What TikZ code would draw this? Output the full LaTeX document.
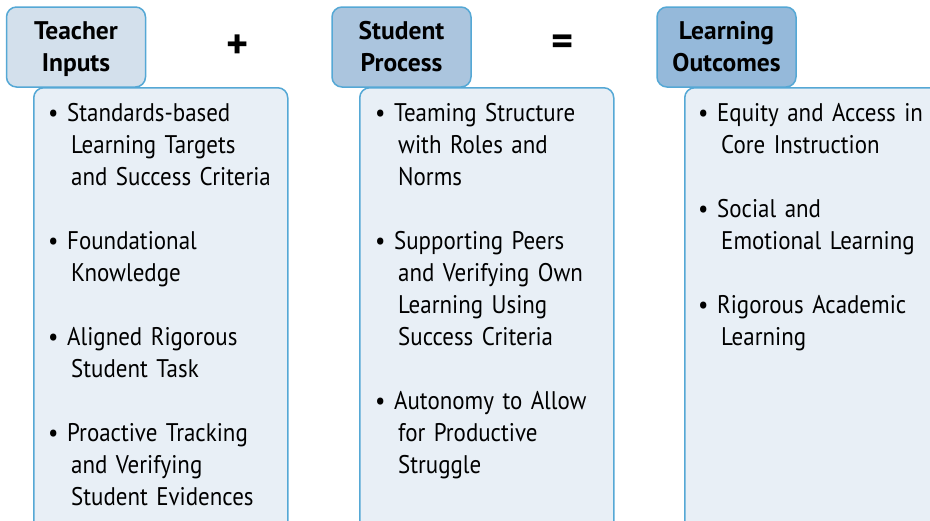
\documentclass[tikz,border=0pt]{standalone}
\usepackage{fontspec}
\setmainfont{PT Sans}
\newfontfamily\listfont[FakeStretch=0.9]{PT Sans}
\usetikzlibrary{positioning}
\definecolor{edgeblue}{HTML}{55A8D5}
\definecolor{headA}{HTML}{D3E0EC}
\definecolor{headB}{HTML}{ABC5DE}
\definecolor{headC}{HTML}{95B9DA}
\definecolor{panelfill}{HTML}{E8EFF6}
\newcommand{\bul}{\makebox[19pt][l]{\textbullet}}
\newcommand{\cont}{\hspace*{23pt}}
\tikzset{
  head/.style={draw=edgeblue, line width=1.5pt, rounded corners=10pt,
    minimum width=139pt, minimum height=80pt, inner sep=0pt},
  headtext/.style={anchor=base, align=center, text width=139pt, inner sep=0pt,
    font=\bfseries\fontsize{25.5}{32}\selectfont},
  panel/.style={draw=edgeblue, fill=panelfill, line width=1.5pt, rounded corners=10pt,
    minimum width=254pt, minimum height=445pt, anchor=north west, inner sep=0pt},
  points/.style={anchor=base west, align=left, text width=300pt, inner sep=0pt,
    font=\listfont\fontsize{25.5}{32}\selectfont},
  sign/.style={inner sep=0pt, font=\bfseries\fontsize{42}{42}\selectfont}
}
\begin{document}
\begin{tikzpicture}[x=1pt, y=-1pt]
  \useasboundingbox (0,0) rectangle (930,520);
  % panels
  \node[panel] (inputsbox) at (33,87) {};
  \node[panel] (processbox) at (359,87) {};
  \node[panel, minimum width=270pt] (outcomesbox) at (684,87) {};
  % heads
  \node[head, fill=headA] (inputs) at (76,47) {};
  \node[head, fill=headB] (process) at (401.5,47) {};
  \node[head, fill=headC] (outcomes) at (726.5,47) {};
  \node[headtext] (inputstext) at (76,39.3) {Teacher\\Inputs};
  \node[headtext] (processtext) at (401.5,39.3) {Student\\Process};
  \node[headtext] (outcomestext) at (726.5,39.3) {Learning\\Outcomes};
  % signs
  \node[sign] (plus) at (238,46.5) {+};
  \node[sign] (equals) at (563,45.7) {=};
  % lists
  \node[points] (inputslist) at (48,121) {%
    \bul Standards-based\\ \cont Learning Targets\\ \cont and Success Criteria\\[32pt]
    \bul Foundational\\ \cont Knowledge\\[32pt]
    \bul Aligned Rigorous\\ \cont Student Task\\[32pt]
    \bul Proactive Tracking\\ \cont and Verifying\\ \cont Student Evidences};
  \node[points] (processlist) at (375,121) {%
    \bul Teaming Structure\\ \cont with Roles and\\ \cont Norms\\[32pt]
    \bul Supporting Peers\\ \cont and Verifying Own\\ \cont Learning Using\\ \cont Success Criteria\\[32pt]
    \bul Autonomy to Allow\\ \cont for Productive\\ \cont Struggle};
  \node[points] (outcomeslist) at (698,121) {%
    \bul Equity and Access in\\ \cont Core Instruction\\[32pt]
    \bul Social and\\ \cont Emotional Learning\\[32pt]
    \bul Rigorous Academic\\ \cont Learning};
\end{tikzpicture}
\end{document}
